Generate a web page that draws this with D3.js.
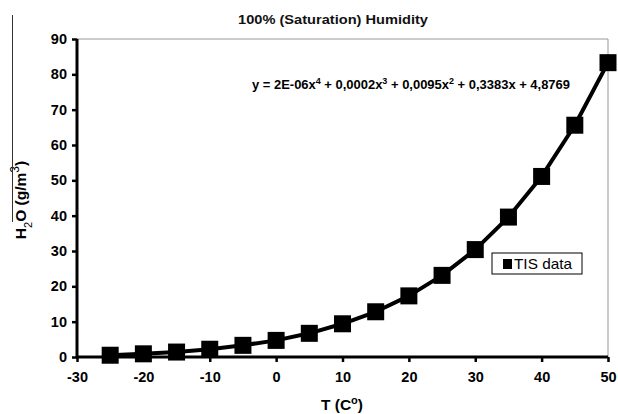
<!DOCTYPE html>
<html><head><meta charset="utf-8">
<script src="https://cdn.jsdelivr.net/npm/d3@7"></script>
<style>body{margin:0;background:#fff}svg{display:block}text{font-family:"Liberation Sans",Arial,sans-serif}</style>
</head><body>
<svg id="c" width="618" height="414"></svg>
<script>
const temps = [-25,-20,-15,-10,-5,0,5,10,15,20,25,30,35,40,45,50];
const humidity = [0.5,0.9,1.4,2.2,3.3,4.7,6.7,9.4,12.8,17.3,23.1,30.4,39.6,51.1,65.6,83.3];
const xTicks = [-30,-20,-10,0,10,20,30,40,50];
const yTicks = [0,10,20,30,40,50,60,70,80,90];
const title = "100% (Saturation) Humidity";
const seriesName = "TIS data";

const svg = d3.select("#c");
const x = d3.scaleLinear().domain([-30,50]).range([77,608]);
const y = d3.scaleLinear().domain([0,90]).range([357,39]);

svg.append("path").attr("d",`M${x(-30)},${y(90)}H${x(50)}V${y(0)}`)
  .attr("fill","none").attr("stroke","#999").attr("stroke-width",1);

const fmt = d => String(d);
const xa = svg.append("g").attr("transform",`translate(0,${y(0)})`)
  .call(d3.axisBottom(x).tickValues(xTicks).tickFormat(fmt).tickSize(5).tickPadding(10));
const ya = svg.append("g").attr("transform",`translate(${x(-30)},0)`)
  .call(d3.axisLeft(y).tickValues(yTicks).tickFormat(fmt).tickSize(5).tickPadding(5));
[xa,ya].forEach(a=>{
  a.select(".domain").attr("stroke","#000").attr("stroke-width",3);
  a.selectAll(".tick line").attr("stroke","#000").attr("stroke-width",2.5);
  a.selectAll(".tick text").attr("font-family","Liberation Sans, Arial, sans-serif")
    .attr("font-size",14.5).attr("font-weight","bold").attr("fill","#000");
});
xa.select(".domain").attr("d",`M${x(-30)},0H${x(50)}`);
ya.select(".domain").attr("d",`M0,${y(0)+1.5}V${y(90)}`);

const line = d3.line().x((d,i)=>x(temps[i])).y(d=>y(d));
svg.append("path").datum(humidity).attr("d",line).attr("fill","none")
  .attr("stroke","#000").attr("stroke-width",4).attr("stroke-linejoin","round");
const ms = 17;
svg.selectAll("rect.m").data(humidity).join("rect").attr("class","m")
  .attr("x",(d,i)=>x(temps[i])-ms/2).attr("y",d=>y(d)-ms/2)
  .attr("width",ms).attr("height",ms).attr("fill","#000");

svg.append("text").attr("x",333).attr("y",24).attr("text-anchor","middle")
  .attr("font-size",13.5).attr("font-weight","bold").attr("fill","#111")
  .attr("textLength",190).attr("lengthAdjust","spacingAndGlyphs").text(title);

const eq = svg.append("text").attr("x",252).attr("y",89).attr("font-size",13)
  .attr("font-weight","bold").attr("fill","#000");
const parts = [["y = 2E-06x",0],["4",1],[" + 0,0002x",0],["3",1],[" + 0,0095x",0],["2",1],[" + 0,3383x + 4,8769",0]];
parts.forEach(p=>{
  const t = eq.append("tspan").text(p[0]);
  if(p[1]) t.attr("font-size",9).attr("baseline-shift","super");
});
eq.attr("textLength",318).attr("lengthAdjust","spacingAndGlyphs");

svg.append("rect").attr("x",492).attr("y",253).attr("width",90).attr("height",21)
  .attr("fill","#fff").attr("stroke","#000").attr("stroke-width",1);
svg.append("rect").attr("x",503).attr("y",259).attr("width",9).attr("height",10).attr("fill","#000");
svg.append("text").attr("x",514).attr("y",269).attr("font-size",14.5).attr("fill","#000")
  .attr("textLength",58).attr("lengthAdjust","spacingAndGlyphs").text(seriesName);

const xt = svg.append("text").attr("x",342).attr("y",410).attr("text-anchor","middle")
  .attr("font-size",15.5).attr("font-weight","bold").attr("fill","#000");
xt.append("tspan").text("T (C");
xt.append("tspan").attr("font-size",11).attr("baseline-shift","super").text("o");
xt.append("tspan").text(")");

const yt = svg.append("text").attr("transform","translate(26,200) rotate(-90)")
  .attr("text-anchor","middle").attr("font-size",15.5).attr("font-weight","bold").attr("fill","#000");
yt.append("tspan").text("H");
yt.append("tspan").attr("font-size",11).attr("baseline-shift","sub").attr("font-weight","normal").text("2");
yt.append("tspan").text("O (g/m");
yt.append("tspan").attr("font-size",12).attr("baseline-shift","super").attr("font-weight","normal").text("3");
yt.append("tspan").text(")");

svg.append("line").attr("x1",12.5).attr("x2",12.5).attr("y1",15).attr("y2",222)
  .attr("stroke","#333").attr("stroke-width",1);
</script>
</body></html>
